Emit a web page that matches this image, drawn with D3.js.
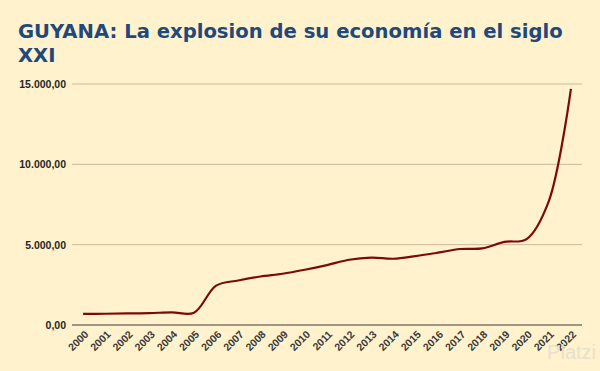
<!DOCTYPE html>
<html>
<head>
<meta charset="utf-8">
<script src="https://cdn.jsdelivr.net/npm/d3@7"></script>
<style>
  body { margin: 0; background: #fff2cc; }
  svg { display: block; }
</style>
</head>
<body>
<svg id="chart" width="600" height="371"></svg>
<script>
// years and GDP per capita values
const years = ["2000","2001","2002","2003","2004","2005","2006","2007","2008","2009","2010",
  "2011","2012","2013","2014","2015","2016","2017","2018","2019","2020","2021","2022"];
const values = [690, 700, 720, 740, 790, 760, 2450, 2770, 3020, 3190, 3440,
  3730, 4060, 4190, 4125, 4290, 4500, 4730, 4770, 5170, 5350, 7700, 14700];
const yTicks = [0, 5000, 10000, 15000];

const svg = d3.select("#chart");
const plotLeft = 72, plotRight = 582, plotTop = 84, plotBottom = 325;

svg.append("rect").attr("width", 600).attr("height", 371).attr("fill", "#fff2cc");

// title - heavy sans, sized so the first line spans about 545px like the original
const title = svg.append("text")
  .attr("font-family", "DejaVu Sans, sans-serif")
  .attr("font-weight", "bold")
  .attr("font-size", 18)
  .attr("fill", "#1f497d");
const line1 = title.append("tspan").attr("x", 18).attr("y", 38).text("GUYANA: La explosion de su economía en el siglo");
title.append("tspan").attr("x", 18).attr("y", 62).text("XXI");
const w = line1.node().getComputedTextLength();
title.attr("font-size", 18 * 545 / w);

const x = d3.scalePoint().domain(years).range([plotLeft, plotRight]).padding(0.5);
const y = d3.scaleLinear().domain([0, 15000]).range([plotBottom, plotTop]);

const fmt = d => d3.format(",.2f")(d).replace(/,/g, "#").replace(/\./g, ",").replace(/#/g, ".");

// gridlines
svg.append("g").selectAll("line")
  .data(yTicks.filter(d => d > 0))
  .enter().append("line")
  .attr("x1", plotLeft).attr("x2", plotRight)
  .attr("y1", d => y(d)).attr("y2", d => y(d))
  .attr("stroke", "#c9b99b").attr("stroke-width", 1);

// y labels
svg.append("g").selectAll("text")
  .data(yTicks)
  .enter().append("text")
  .attr("x", 66).attr("y", d => y(d) + 4)
  .attr("text-anchor", "end")
  .attr("font-family", "Liberation Sans, Arial, sans-serif")
  .attr("font-weight", "bold")
  .attr("font-size", 10.5)
  .attr("fill", "#262626")
  .text(fmt);

// baseline
svg.append("line")
  .attr("x1", plotLeft).attr("x2", plotRight)
  .attr("y1", y(0)).attr("y2", y(0))
  .attr("stroke", "#3a3a3a").attr("stroke-width", 1.2);

// x labels
svg.append("g").selectAll("text")
  .data(years)
  .enter().append("text")
  .attr("transform", d => "translate(" + (x(d) + 6) + "," + (plotBottom + 10) + ") rotate(-45)")
  .attr("text-anchor", "end")
  .attr("font-family", "Liberation Sans, Arial, sans-serif")
  .attr("font-weight", "bold")
  .attr("font-size", 10.5)
  .attr("fill", "#3a3a3a")
  .text(d => d);

// line
const line = d3.line()
  .x((d, i) => x(years[i]))
  .y(d => y(d))
  .curve(d3.curveCatmullRom.alpha(0.5));

svg.append("path")
  .datum(values)
  .attr("fill", "none")
  .attr("stroke", "#7b0a0a")
  .attr("stroke-width", 2.2)
  .attr("d", line);

// watermark
svg.append("text")
  .attr("x", 596).attr("y", 359)
  .attr("text-anchor", "end")
  .attr("font-family", "Liberation Sans, Arial, sans-serif")
  .attr("font-size", 20)
  .attr("fill", "#e8e0cc")
  .text("Platzi");
</script>
</body>
</html>
